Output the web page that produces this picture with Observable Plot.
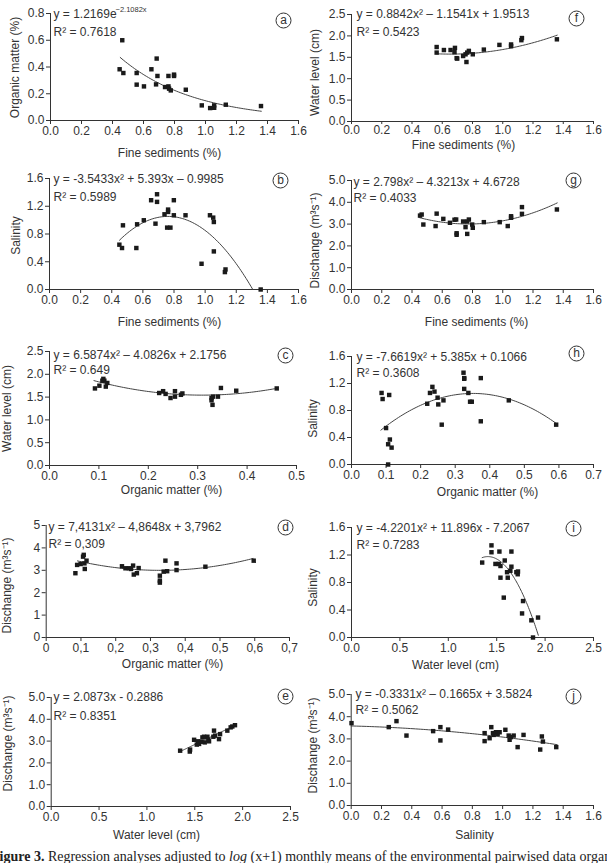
<!DOCTYPE html>
<html>
<head>
<meta charset="utf-8">
<script src="https://cdn.jsdelivr.net/npm/d3@7"></script>
<script src="https://cdn.jsdelivr.net/npm/@observablehq/plot@0.6"></script>
<style>
  html, body { margin: 0; padding: 0; width: 607px; height: 863px; overflow: hidden; background: #fff; }
  #fig { position: relative; width: 607px; height: 863px; }
  #cap { position: absolute; left: -9px; top: 850px; white-space: nowrap; font-family: "Liberation Serif", "Times New Roman", serif; font-size: 14px; line-height: 14px; color: #222; }
</style>
</head>
<body>
<div id="fig">
  <div id="cap"><b>Figure 3.</b> Regression analyses adjusted to <i>log</i> (x+1) monthly means of the environmental pairwised data organized by month</div>
</div>
<script>
// ---------------- data ----------------
// (a) Organic matter vs Fine sediments
const aFine = [0.463,0.446,0.470,0.556,0.556,0.603,0.651,0.685,0.690,0.681,0.761,0.797,0.797,0.739,0.761,0.765,0.776,0.873,0.976,1.030,1.056,1.056,1.131,1.358];
const aOrganic = [0.60,0.383,0.355,0.355,0.268,0.255,0.383,0.463,0.333,0.27,0.333,0.343,0.333,0.25,0.255,0.238,0.225,0.23,0.113,0.093,0.113,0.095,0.118,0.108];
// (f) Water level vs Fine sediments
const fFine = [0.563,0.563,0.611,0.655,0.684,0.681,0.695,0.699,0.738,0.754,0.765,0.760,0.776,0.802,0.875,0.978,1.055,1.055,1.123,1.127,1.358];
const fWater = [1.74,1.61,1.67,1.67,1.72,1.62,1.48,1.47,1.53,1.57,1.61,1.39,1.65,1.57,1.68,1.79,1.80,1.76,1.90,1.95,1.92];
// (b) Salinity vs Fine sediments
const bFine = [0.449,0.466,0.472,0.558,0.563,0.606,0.653,0.681,0.691,0.691,0.739,0.762,0.762,0.756,0.777,0.799,0.799,0.874,0.977,1.031,1.052,1.056,1.056,1.131,1.127,1.357];
const bSalinity = [0.646,0.598,0.925,0.598,0.940,0.998,1.287,0.949,1.373,1.263,1.084,1.152,1.118,0.892,0.892,1.287,1.070,1.070,0.371,1.070,1.036,0.973,0.549,0.289,0.251,0.0];
// (g) Discharge vs Fine sediments
const gFine = [0.453,0.464,0.475,0.556,0.563,0.607,0.651,0.681,0.692,0.695,0.695,0.738,0.754,0.765,0.765,0.776,0.798,0.802,0.875,0.980,1.033,1.055,1.055,1.127,1.127,1.358];
const gDischarge = [3.39,3.44,2.98,2.91,3.48,3.24,3.06,3.20,3.21,2.58,2.51,3.12,2.86,3.12,2.55,3.21,2.98,2.83,3.09,3.09,2.91,3.36,3.29,3.78,3.47,3.67];
// (c) Water level vs Organic matter
const cOrganic = [0.092,0.101,0.107,0.109,0.111,0.114,0.117,0.222,0.230,0.235,0.245,0.254,0.254,0.266,0.269,0.328,0.328,0.330,0.331,0.341,0.347,0.378,0.460];
const cWater = [1.69,1.75,1.86,1.90,1.86,1.73,1.81,1.59,1.63,1.57,1.48,1.63,1.51,1.55,1.58,1.48,1.43,1.33,1.51,1.51,1.70,1.64,1.69];
// (h) Salinity vs Organic matter
const hOrganic = [0.087,0.090,0.100,0.109,0.106,0.111,0.116,0.106,0.219,0.227,0.234,0.240,0.249,0.251,0.266,0.261,0.324,0.326,0.326,0.326,0.338,0.343,0.348,0.374,0.374,0.455,0.592];
const hSalinity = [1.06,0.97,0.54,1.03,0.30,0.37,0.25,0.0,0.90,1.06,1.15,1.08,0.99,0.89,0.95,0.59,1.36,1.28,1.27,1.12,1.06,0.93,0.93,1.28,0.64,0.95,0.59];
// (d) Discharge vs Organic matter
const dOrganic = [0.084,0.089,0.099,0.106,0.108,0.110,0.111,0.116,0.218,0.228,0.238,0.244,0.250,0.252,0.261,0.266,0.327,0.327,0.327,0.338,0.343,0.348,0.375,0.375,0.458,0.597];
const dDischarge = [2.87,3.24,3.28,3.61,3.69,3.31,3.06,3.43,3.18,3.09,3.09,3.06,3.21,2.81,2.87,3.10,2.76,2.54,2.45,2.94,3.43,2.96,3.31,3.01,3.16,3.43];
// (i) Salinity vs Water level
const iWater = [1.350,1.446,1.446,1.487,1.521,1.528,1.539,1.539,1.573,1.583,1.607,1.614,1.641,1.652,1.652,1.703,1.717,1.720,1.772,1.762,1.858,1.875,1.927];
const iSalinity = [1.09,1.34,1.24,1.07,1.07,1.25,0.87,1.04,0.58,1.12,0.95,0.87,0.97,1.03,1.25,0.95,0.92,0.96,0.53,0.35,0.25,0.0,0.29];
// (e) Discharge vs Water level
const eWater = [1.347,1.448,1.451,1.493,1.521,1.535,1.545,1.569,1.580,1.597,1.604,1.632,1.642,1.649,1.694,1.701,1.712,1.753,1.764,1.840,1.875,1.892,1.920];
const eDischarge = [2.56,2.52,2.61,3.06,2.84,2.99,2.87,2.97,3.17,3.20,2.94,3.20,3.06,2.99,3.20,3.48,3.25,3.09,3.32,3.48,3.63,3.67,3.73];
// (j) Discharge vs Salinity
const jSalinity = [0.002,0.248,0.299,0.365,0.541,0.589,0.589,0.640,0.881,0.881,0.914,0.925,0.936,0.941,0.956,0.967,0.980,1.018,1.040,1.046,1.055,1.073,1.099,1.138,1.248,1.259,1.266,1.354];
const jDischarge = [3.71,3.53,3.80,3.15,3.35,3.53,2.93,3.42,3.26,2.90,3.03,3.53,3.26,3.18,3.30,3.23,3.30,3.41,3.15,2.96,3.08,3.15,2.63,3.18,2.52,3.11,2.88,2.63];

// regression coefficients (as printed) and fitted x-ranges
const aFit = [1.2169, -2.1082];            // exponential
const fFit = [0.8842, -1.1541, 1.9513];
const bFit = [-3.5433, 5.393, -0.9985];
const gFit = [2.798, -4.3213, 4.6728];
const cFit = [6.5874, -4.0826, 2.1756];
const hFit = [-7.6619, 5.385, 0.1066];
const dFit = [7.4131, -4.8648, 3.7962];
const iFit = [-4.2201, 11.896, -7.2067];
const eFit = [2.0873, -0.2886];            // linear
const jFit = [-0.3331, -0.1665, 3.5824];
const aRange = [0.45, 1.36], fRange = [0.56, 1.36], bRange = [0.45, 1.306], gRange = [0.45, 1.36];
const cRange = [0.09, 0.46], hRange = [0.085, 0.595], dRange = [0.09, 0.595], iRange = [1.35, 1.93];
const eRange = [1.35, 1.92], jRange = [0, 1.36];

// tick values
const ticks16 = [0, 0.2, 0.4, 0.6, 0.8, 1.0, 1.2, 1.4, 1.6];
const ticks08 = [0, 0.2, 0.4, 0.6, 0.8];
const ticks16by4 = [0, 0.4, 0.8, 1.2, 1.6];
const ticks25 = [0, 0.5, 1.0, 1.5, 2.0, 2.5];
const ticks5 = [0, 1, 2, 3, 4, 5];
const ticks05 = [0, 0.1, 0.2, 0.3, 0.4, 0.5];
const ticks07 = [0, 0.1, 0.2, 0.3, 0.4, 0.5, 0.6, 0.7];

// labels
const lblFine = "Fine sediments (%)";
const lblOrganic = "Organic matter (%)";
const lblWater = "Water level (cm)";
const lblSalinity = "Salinity";
const lblDischarge = "Dischange (m³s⁻¹)";

// ---------------- helpers ----------------
const f1 = d3.format(".1f");
const fComma = d => d === 0 ? "0" : d.toFixed(1).replace(".", ",");
const fInt = d3.format("d");
const quad = c => x => c[0] * x * x + c[1] * x + c[2];
const lin = c => x => c[0] * x + c[1];
const expo = c => x => c[0] * Math.exp(c[1] * x);

const FONT = '"Liberation Sans", Arial, Helvetica, sans-serif';
const INK = "#333";

const panels = [
  {id:"a", box:[0,0,306,165], fr:[50,13,298,120], xs:aFine, ys:aOrganic, fn:expo(aFit), rg:aRange,
   xd:[0,1.6], yd:[0,0.8], xt:ticks16, yt:ticks08, xf:f1, yf:f1, xl:lblFine, yl:lblOrganic,
   xlp:[169,153], ylp:[15,67], eq:["y = 1.2169e","R² = 0.7618"], eqp:[53,14,32], sup:["−2.1082x",62,-5], let:[283,20]},
  {id:"f", box:[306,0,301,165], fr:[351,14,593,121], xs:fFine, ys:fWater, fn:quad(fFit), rg:fRange,
   xd:[0,1.6], yd:[0,2.5], xt:ticks16, yt:ticks25, xf:f1, yf:f1, xl:lblFine, yl:lblWater, xts:3, xtp:1,
   xlp:[463,145], ylp:[315,72], eq:["y = 0.8842x² – 1.1541x + 1.9513","R² = 0.5423"], eqp:[356,14,32], let:[576,18]},
  {id:"b", box:[0,165,306,170], fr:[49,178,298,289], xs:bFine, ys:bSalinity, fn:quad(bFit), rg:bRange,
   xd:[0,1.6], yd:[0,1.6], xt:ticks16, yt:ticks16by4, xf:f1, yf:f1, xl:lblFine, yl:lblSalinity,
   xlp:[169,322], ylp:[16,235], eq:["y = -3.5433x² + 5.393x – 0.9985","R² = 0.5989"], eqp:[53,179,197], let:[280,180]},
  {id:"g", box:[306,165,301,170], fr:[351,180,593,289], xs:gFine, ys:gDischarge, fn:quad(gFit), rg:gRange,
   xd:[0,1.6], yd:[0,5], xt:ticks16, yt:ticks5, xf:f1, yf:f1, xl:lblFine, yl:lblDischarge,
   xlp:[476,322], ylp:[315,240], eq:["y = 2.798x² – 4.3213x + 4.6728","R² = 0.4033"], eqp:[353,182,198], let:[573,180]},
  {id:"c", box:[0,335,306,165], fr:[49,351,296,465], xs:cOrganic, ys:cWater, fn:quad(cFit), rg:cRange,
   xd:[0,0.5], yd:[0,2.5], xt:ticks05, yt:ticks25, xf:f1, yf:f1, xl:lblOrganic, yl:lblWater,
   xlp:[171,490], ylp:[7,408], eq:["y = 6.5874x² – 4.0826x + 2.1756","R² = 0.649"], eqp:[53,355,370], let:[285,355]},
  {id:"h", box:[306,335,301,165], fr:[351,356,593,464], xs:hOrganic, ys:hSalinity, fn:quad(hFit), rg:hRange,
   xd:[0,0.7], yd:[0,1.6], xt:ticks07, yt:ticks16by4, xf:f1, yf:f1, xl:lblOrganic, yl:lblSalinity,
   xlp:[487,492], ylp:[313,418], eq:["y = -7.6619x² + 5.385x + 0.1066","R² = 0.3608"], eqp:[356,357,373], let:[576,353]},
  {id:"d", box:[0,500,306,172], fr:[45.7,525,289,637], xs:dOrganic, ys:dDischarge, fn:quad(dFit), rg:dRange,
   xd:[0,0.7], yd:[0,5], xt:ticks07, yt:ticks5, xf:fComma, yf:fInt, xl:lblOrganic, yl:lblDischarge,
   xlp:[172,664], ylp:[7,585], eq:["y = 7,4131x² – 4,8648x + 3,7962","R² = 0,309"], eqp:[48,527,544], let:[285,527]},
  {id:"i", box:[306,500,301,172], fr:[351,527,593,637], xs:iWater, ys:iSalinity, fn:quad(iFit), rg:iRange,
   xd:[0,2.5], yd:[0,1.6], xt:ticks25, yt:ticks16by4, xf:f1, yf:f1, xl:lblWater, yl:lblSalinity,
   xlp:[455,665], ylp:[313,587], eq:["y = -4.2201x² + 11.896x - 7.2067","R² = 0.7283"], eqp:[356,528,545], let:[573,528]},
  {id:"e", box:[0,672,306,178], fr:[50.7,697,290,806], xs:eWater, ys:eDischarge, fn:lin(eFit), rg:eRange,
   xd:[0,2.5], yd:[0,5], xt:ticks25, yt:ticks5, xf:f1, yf:f1, xl:lblWater, yl:lblDischarge,
   xlp:[156,835], ylp:[8,743], eq:["y = 2.0873x - 0.2886","R² = 0.8351"], eqp:[53,697,716], let:[285,696]},
  {id:"j", box:[306,672,301,178], fr:[350.7,694,593,805], xs:jSalinity, ys:jDischarge, fn:quad(jFit), rg:jRange,
   xd:[0,1.6], yd:[0,5], xt:ticks16, yt:ticks5, xf:f1, yf:f1, xl:lblSalinity, yl:lblDischarge,
   xlp:[474,835], ylp:[313,745], eq:["y = -0.3331x² – 0.1665x + 3.5824","R² = 0.5062"], eqp:[355,694,710], let:[573,696]}
];

const fig = document.getElementById("fig");

for (const p of panels) {
  const [bx, by, bw, bh] = p.box;
  const [L, T, R, B] = p.fr;
  const pts = p.xs.map((x, i) => ({x, y: p.ys[i]}));
  const n = 80;
  const curve = d3.range(n + 1).map(k => {
    const x = p.rg[0] + (p.rg[1] - p.rg[0]) * k / n;
    return {x, y: p.fn(x)};
  });
  const cxm = (L + R) / 2, cym = (T + B) / 2;
  const marks = [
    Plot.axisX({ticks: p.xt, tickFormat: p.xf, tickSize: p.xts ?? 4, tickPadding: p.xtp ?? 2, label: null, fontSize: 12, stroke: INK, fill: INK}),
    Plot.axisY({ticks: p.yt, tickFormat: p.yf, tickSize: 4, tickPadding: 2, label: null, fontSize: 12, stroke: INK, fill: INK}),
    Plot.ruleX([p.xd[0]], {stroke: INK, strokeWidth: 1}),
    Plot.ruleY([p.yd[0]], {stroke: INK, strokeWidth: 1}),
    Plot.line(curve, {x: "x", y: "y", stroke: "#444", strokeWidth: 1}),
    Plot.dot(pts, {x: "x", y: "y", symbol: "square", r: 2.5, fill: "#1a1a1a"}),
    Plot.text([p.xl], {text: d => d, frameAnchor: "bottom", textAnchor: "middle", lineAnchor: "middle",
      dx: p.xlp[0] - cxm, dy: p.xlp[1] - B, fontSize: 12, fill: INK}),
    Plot.text([p.yl], {text: d => d, frameAnchor: "left", textAnchor: "middle", lineAnchor: "middle", rotate: -90,
      dx: p.ylp[0] - L, dy: p.ylp[1] - cym, fontSize: 12, fill: INK}),
    Plot.text([p.eq[0]], {text: d => d, frameAnchor: "top-left", textAnchor: "start", lineAnchor: "middle",
      dx: p.eqp[0] - L, dy: p.eqp[1] - T, fontSize: 12, fill: INK}),
    Plot.text([p.eq[1]], {text: d => d, frameAnchor: "top-left", textAnchor: "start", lineAnchor: "middle",
      dx: p.eqp[0] - L, dy: p.eqp[2] - T, fontSize: 12, fill: INK}),
    Plot.dot([p.id], {frameAnchor: "top-right", dx: p.let[0] - R, dy: p.let[1] - T, r: 7.5, stroke: INK, fill: "white", strokeWidth: 1}),
    Plot.text([p.id], {text: d => d, frameAnchor: "top-right", textAnchor: "middle", lineAnchor: "middle",
      dx: p.let[0] - R, dy: p.let[1] - T, fontSize: 12, fill: INK})
  ];
  if (p.sup) {
    marks.push(Plot.text([p.sup[0]], {text: d => d, frameAnchor: "top-left", textAnchor: "start", lineAnchor: "middle",
      dx: p.eqp[0] - L + p.sup[1], dy: p.eqp[1] - T + p.sup[2], fontSize: 7.5, fill: INK}));
  }
  const plot = Plot.plot({
    width: bw, height: bh,
    marginLeft: L - bx, marginRight: bx + bw - R, marginTop: T - by, marginBottom: by + bh - B,
    x: {domain: p.xd},
    y: {domain: p.yd},
    style: {fontFamily: FONT, fontSize: "12px", color: INK, background: "transparent", overflow: "visible"},
    marks
  });
  plot.style.position = "absolute";
  plot.style.left = bx + "px";
  plot.style.top = by + "px";
  fig.appendChild(plot);
}
</script>
</body>
</html>
